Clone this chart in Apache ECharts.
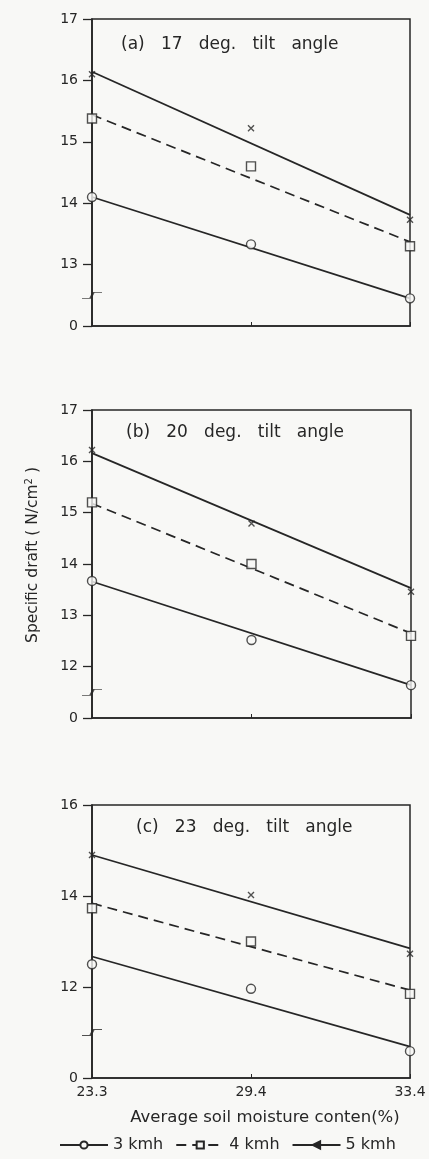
<!DOCTYPE html>
<html>
<head>
<meta charset="utf-8">
<script src="https://cdn.jsdelivr.net/npm/echarts@6/dist/echarts.min.js"></script>
<style>
html,body{margin:0;padding:0;background:#f8f8f6;}
#chart{width:429px;height:1159px;}
</style>
</head>
<body>
<div id="chart"></div>
<script>
// ---- data ----
const categories = ['23.3', '29.4', '33.4'];
const panelTitles = ['(a)   17   deg.   tilt   angle', '(b)   20   deg.   tilt   angle', '(c)   23   deg.   tilt   angle'];
const seriesNames = ['3 kmh', '4 kmh', '5 kmh'];
const yMin = [12, 11, 10];
const yMax = [17, 17, 16];
const yStep = [1, 1, 2];
const breakAt = [12.5, 11.5, 11.0];
// measured points per panel (a, b, c)
const points3 = [[14.1, 13.33, 12.45], [13.67, 12.52, 11.64], [12.5, 11.96, 10.59]];
const points4 = [[15.38, 14.6, 13.3], [15.2, 14.0, 12.6], [13.73, 13.0, 11.85]];
const points5 = [[16.1, 15.22, 13.73], [16.22, 14.79, 13.46], [14.9, 14.02, 12.73]];
// fitted lines: value at 23.3 and at 33.4
const fit3 = [[14.1, 12.45], [13.66, 11.64], [12.67, 10.69]];
const fit4 = [[15.44, 13.37], [15.18, 12.65], [13.84, 11.93]];
const fit5 = [[16.14, 13.81], [16.16, 13.53], [14.9, 12.85]];

// ---- chart ----
const ink = '#262626';
const paper = '#f8f8f6';
const font = 'DejaVu Sans';
const grids = [
  {left: 92, width: 318, top: 19, height: 307},
  {left: 92, width: 319, top: 410, height: 308},
  {left: 92, width: 318, top: 805, height: 273}
];
const titlePos = [[116, 31], [121, 419], [131, 814]];
const xMark = 'path://M0,0 L10,10 M10,0 L0,10';
const breakMark = 'path://M0,7 L8,7 L11,3 L19,3';

const series = [];
const fits = [fit3, fit4, fit5];
const pts = [points3, points4, points5];
const lineSymbols = ['circle', 'rect', 'triangle'];
const ptSymbols = ['circle', 'rect', xMark];
for (let p = 0; p < 3; p++) {
  for (let s = 0; s < 3; s++) {
    series.push({
      name: seriesNames[s], type: 'line', xAxisIndex: p, yAxisIndex: p,
      data: [fits[s][p][0], null, fits[s][p][1]], connectNulls: true,
      symbol: lineSymbols[s], symbolSize: s === 2 ? [6, 9] : 7, symbolRotate: s === 2 ? 90 : 0,
      showSymbol: false, silent: true,
      itemStyle: {color: s === 2 ? ink : paper, borderColor: ink, borderWidth: 1.3},
      lineStyle: {color: ink, width: 1.7, type: s === 1 ? [10, 6] : 'solid'},
      z: 2
    });
    series.push({
      name: seriesNames[s] + ' pts', type: 'scatter', xAxisIndex: p, yAxisIndex: p,
      data: pts[s][p], symbol: ptSymbols[s], symbolSize: s === 2 ? 6 : 9,
      itemStyle: {color: s === 2 ? 'rgba(0,0,0,0)' : paper, borderColor: ink, borderWidth: 1.4},
      silent: true, z: 3
    });
  }
  series.push({
    type: 'scatter', xAxisIndex: p, yAxisIndex: p, silent: true,
    data: [[0, breakAt[p]]], symbol: breakMark, symbolSize: [20, 6],
    itemStyle: {color: 'rgba(0,0,0,0)', borderColor: ink, borderWidth: 1.4}, z: 4
  });
}

const option = {
  backgroundColor: paper,
  animation: false,
  textStyle: {fontFamily: font, color: ink},
  title: panelTitles.map((t, i) => ({
    text: t, left: titlePos[i][0], top: titlePos[i][1],
    textStyle: {fontFamily: font, fontSize: 17, fontWeight: 'normal', color: ink}
  })),
  grid: grids.map(g => Object.assign({show: true, borderColor: ink, borderWidth: 1.5, backgroundColor: 'rgba(0,0,0,0)'}, g)),
  xAxis: grids.map((g, i) => ({
    gridIndex: i, type: 'category', data: categories, boundaryGap: false,
    axisLine: {lineStyle: {color: ink, width: 1.7}},
    axisTick: {inside: true, length: 4, lineStyle: {color: ink}},
    axisLabel: {show: i === 2, fontSize: 14, color: ink, margin: 7, fontFamily: font},
    splitLine: {show: false},
    name: i === 2 ? 'Average soil moisture conten(%)' : '',
    nameLocation: 'middle', nameGap: 31,
    nameTextStyle: {fontSize: 16.5, color: ink, fontFamily: font, padding: [0, 0, 0, 28]}
  })),
  yAxis: grids.map((g, i) => ({
    gridIndex: i, type: 'value', min: yMin[i], max: yMax[i], interval: yStep[i],
    axisLine: {show: true, lineStyle: {color: ink, width: 1.7}},
    axisTick: {show: true, length: 9, lineStyle: {color: ink, width: 1.3}},
    axisLabel: {fontSize: 14, color: ink, margin: 14, fontFamily: font,
      formatter: v => (v === yMin[i] ? '0' : String(v))},
    splitLine: {show: false},
    name: i === 1 ? 'Specific draft ( N/cm{sup|2} )' : '',
    nameLocation: 'middle', nameGap: 50,
    nameTextStyle: {fontSize: 15.5, color: ink, fontFamily: font, padding: [0, 0, 0, 18],
      rich: {sup: {fontSize: 10, verticalAlign: 'top', padding: [0, 0, 8, 0], color: ink, fontFamily: font}}}
  })),
  legend: {
    data: seriesNames, bottom: 1, left: 54, itemWidth: 48, itemHeight: 9, itemGap: 12,
    textStyle: {fontSize: 16, color: ink, fontFamily: font}, selectedMode: false
  },
  series: series
};

const chart = echarts.init(document.getElementById('chart'), null, {renderer: 'canvas'});
chart.setOption(option);
</script>
</body>
</html>
